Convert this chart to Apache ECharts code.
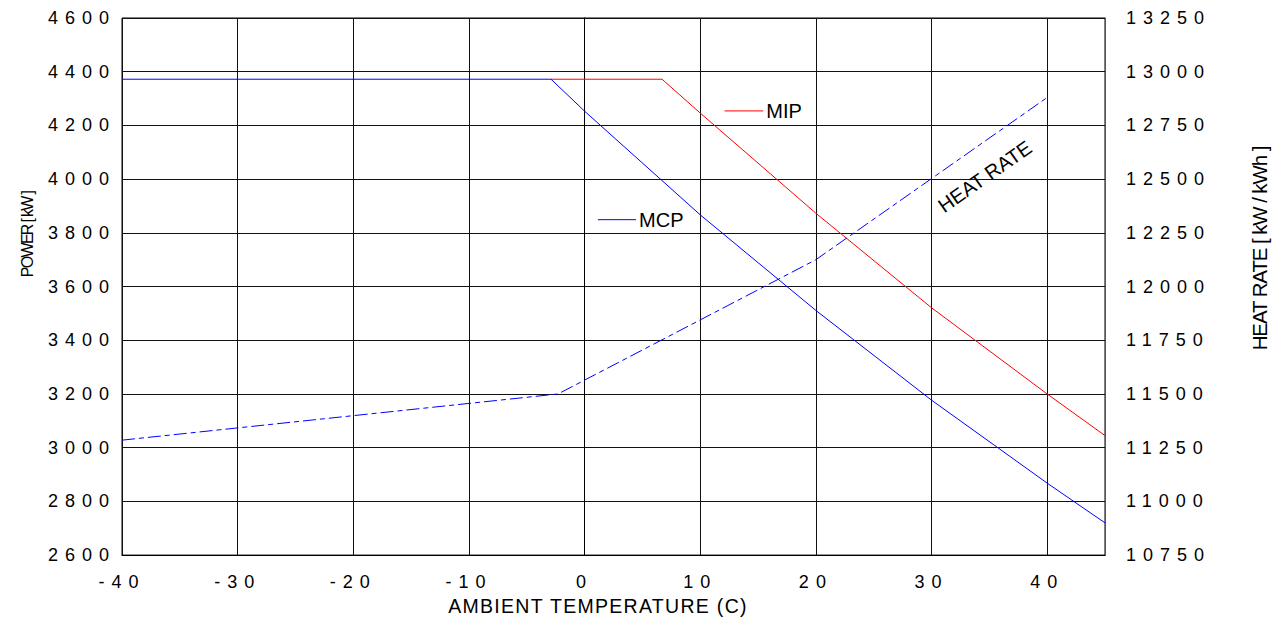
<!DOCTYPE html>
<html>
<head>
<meta charset="utf-8">
<script src="https://cdn.jsdelivr.net/npm/echarts@6/dist/echarts.min.js"></script>
<style>
html, body { margin: 0; padding: 0; background: #ffffff; }
#chart { width: 1283px; height: 621px; }
/* tick labels of the original are widely letter-spaced */
#chart text[style*="18px"] { letter-spacing: 7px; }
/* axis titles: condensed (left/right), slightly spaced (bottom) */
#chart text[style*="16px"] { letter-spacing: -1.7px; }
#chart text[style*="20.5px"] { letter-spacing: -1.1px; }
#chart text[style*="19.5px"] { letter-spacing: 1.3px; }
</style>
</head>
<body>
<div id="chart"></div>
<script>
// ---- data ----
const mcpTemp  = [-40, -2.9, 0, 10, 20, 30, 40, 45];
const mcpPower = [4372, 4372, 4253, 3867, 3511, 3177, 2868, 2720];

const mipTemp  = [-2.9, 6.7, 10, 20, 30, 40, 45];
const mipPower = [4372, 4372, 4246, 3873, 3521, 3200, 3045];

const hrTemp = [-40, -2.3, 20, 40];
const hrRate = [11285, 11500, 12125, 12880];

const xTitle = 'AMBIENT TEMPERATURE (C)';
const yLeftTitle = 'POWER [ kW ]';
const yRightTitle = 'HEAT RATE [ kW / kWh ]';

// annotations (data coordinates)
const mipLabel = { text: 'MIP', from: [12.1, 4254], to: [15.45, 4254], color: '#ff0000' };
const mcpLabel = { text: 'MCP', from: [1.15, 3849], to: [4.45, 3849], color: '#0000ff' };
const hrLabel  = { text: 'HEAT RATE', at: [34.6, 12512], rotateDeg: 35 };

const pairs = (xs, ys) => xs.map((x, i) => [x, ys[i]]);
const plain = (v) => String(v);

const labelFont = '"Liberation Sans", Arial, sans-serif';

const chart = echarts.init(document.getElementById('chart'), null, { renderer: 'svg' });

chart.setOption({
  animation: false,
  backgroundColor: '#ffffff',
  grid: { left: 122, right: 178, top: 18, bottom: 61, show: true, borderColor: '#000', borderWidth: 1, backgroundColor: 'transparent' },
  xAxis: {
    type: 'value', min: -40, max: 45, interval: 10,
    name: xTitle, nameLocation: 'middle', nameGap: 40,
    nameTextStyle: { fontFamily: labelFont, fontSize: 19.5, color: '#000', padding: [0, 31, 0, 0] },
    axisLine: { show: true, lineStyle: { color: '#000', width: 1 } },
    axisTick: { show: false },
    axisLabel: { color: '#000', fontFamily: labelFont, fontSize: 18, margin: 18, showMaxLabel: false, formatter: plain },
    splitLine: { show: true, lineStyle: { color: '#111', width: 1 } }
  },
  yAxis: [
    {
      type: 'value', min: 2600, max: 4600, interval: 200, position: 'left',
      name: yLeftTitle, nameLocation: 'middle', nameRotate: 90, nameGap: 87,
      nameTextStyle: { fontFamily: labelFont, fontSize: 16, color: '#000', padding: [0, 0, 0, 104] },
      axisLine: { show: true, lineStyle: { color: '#000', width: 1 } },
      axisTick: { show: false },
      axisLabel: { color: '#000', fontFamily: labelFont, fontSize: 18, margin: 6, formatter: plain },
      splitLine: { show: true, lineStyle: { color: '#111', width: 1 } }
    },
    {
      type: 'value', min: 10750, max: 13250, interval: 250, position: 'right',
      name: yRightTitle, nameLocation: 'middle', nameRotate: 90, nameGap: 144,
      nameTextStyle: { fontFamily: labelFont, fontSize: 20.5, color: '#000', padding: [0, 0, 0, 76] },
      axisLine: { show: true, lineStyle: { color: '#555', width: 1 } },
      axisTick: { show: false },
      axisLabel: { color: '#000', fontFamily: labelFont, fontSize: 18, margin: 21, formatter: plain },
      splitLine: { show: false }
    }
  ],
  series: [
    {
      name: 'MIP', type: 'line', yAxisIndex: 0, data: pairs(mipTemp, mipPower),
      showSymbol: false, symbol: 'none', z: 3,
      lineStyle: { color: '#ff0000', width: 1 }
    },
    {
      name: 'MCP', type: 'line', yAxisIndex: 0, data: pairs(mcpTemp, mcpPower),
      showSymbol: false, symbol: 'none', z: 4,
      lineStyle: { color: '#0000ff', width: 1 }
    },
    {
      name: 'HEAT RATE', type: 'line', yAxisIndex: 1, data: pairs(hrTemp, hrRate),
      showSymbol: false, symbol: 'none', z: 4,
      lineStyle: { color: '#0000ff', width: 1, type: [13, 4, 5, 4] }
    }
  ]
});

function toPx(pt, axisIndex) {
  return chart.convertToPixel({ xAxisIndex: 0, yAxisIndex: axisIndex }, pt);
}

const graphics = [];
[mipLabel, mcpLabel].forEach(function (a) {
  const p1 = toPx(a.from, 0), p2 = toPx(a.to, 0);
  graphics.push({
    type: 'line', silent: true, z: 10,
    shape: { x1: p1[0], y1: p1[1], x2: p2[0], y2: p2[1] },
    style: { stroke: a.color, lineWidth: 1 }
  });
  graphics.push({
    type: 'text', silent: true, z: 10, x: p2[0] + 3, y: p1[1],
    style: { text: a.text, fill: '#000', fontSize: 20, fontFamily: labelFont, align: 'left', verticalAlign: 'middle' }
  });
});
const hp = toPx(hrLabel.at, 1);
graphics.push({
  type: 'text', silent: true, z: 10, x: hp[0], y: hp[1], rotation: hrLabel.rotateDeg * Math.PI / 180,
  style: { text: hrLabel.text, fill: '#000', fontSize: 20, fontFamily: labelFont, align: 'center', verticalAlign: 'middle' }
});
chart.setOption({ graphic: graphics });
</script>
</body>
</html>
